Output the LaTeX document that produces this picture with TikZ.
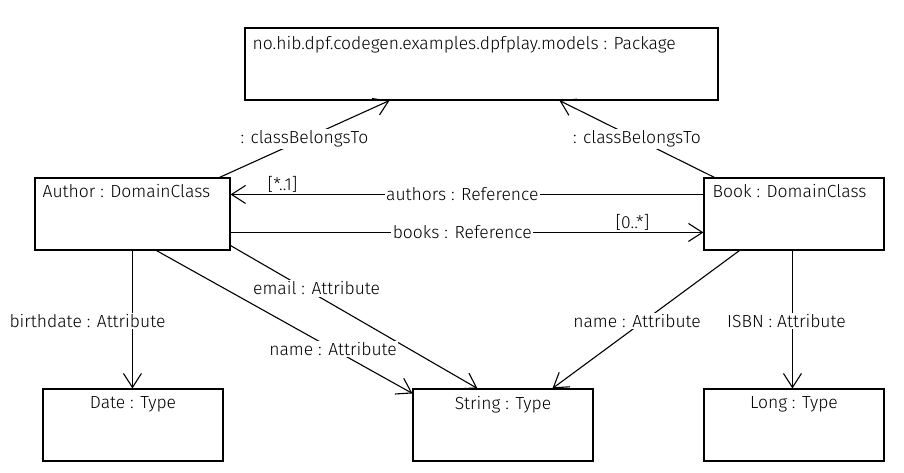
\documentclass[tikz,border=0pt]{standalone}
\usepackage{fontspec}
\setmainfont{Fira Sans Light}
\usetikzlibrary{arrows.meta,calc}
\begin{document}
\begin{tikzpicture}[x=1pt,y=-1pt,
  box/.style={draw,line width=1.1pt,minimum height=72pt,inner sep=0pt},
  arr/.style={line width=1.1pt,-{Straight Barb[length=14pt,width=18pt,line width=1.1pt]}},
  lbl/.style={fill=white,inner sep=1.5pt,font=\fontsize{17.5}{20}\selectfont},
  mult/.style={inner sep=1pt,font=\fontsize{17.5}{20}\selectfont},
  ttl/.style={inner sep=0pt,font=\fontsize{17.5}{20}\selectfont}]
\useasboundingbox[fill=white] (0,0) rectangle (904,472);
\node[box,minimum width=473pt] (pkg) at (481.5,64) {};
\node[box,minimum width=195pt] (author) at (132.5,214) {};
\node[box,minimum width=180pt] (book) at (794,214) {};
\node[box,minimum width=180pt] (date) at (133,425) {};
\node[box,minimum width=180pt] (string) at (503,425) {};
\node[box,minimum width=180pt] (long) at (794,425) {};
\node[ttl,anchor=north west] (pkgt) at ($(pkg.north west)+(8,9)$) {no.hib.dpf.codegen.examples.dpfplay.models : Package};
\node[ttl,anchor=north west] (authort) at ($(author.north west)+(8,7)$) {Author : DomainClass};
\node[ttl,anchor=north west] (bookt) at ($(book.north west)+(9,7)$) {Book : DomainClass};
\node[ttl,anchor=north] (datet) at ($(date.north)+(0,8)$) {Date : Type};
\node[ttl,anchor=north] (stringt) at ($(string.north)+(0,8)$) {String : Type};
\node[ttl,anchor=north] (longt) at ($(long.north)+(0,8)$) {Long : Type};
% edges
\draw[arr] ($(author.north west)+(185,0)$) -- node[lbl,pos=.5]{: classBelongsTo} ($(pkg.south west)+(145,0)$);
\draw[arr] ($(book.north west)+(11,0)$) -- node[lbl,pos=.5]{: classBelongsTo} ($(pkg.south west)+(315,0)$);
\draw[arr] ($(book.north west)+(0,17)$) -- node[lbl,pos=.51]{authors : Reference}
  node[mult,pos=.89,above]{[*..1]} ($(author.north east)+(0,17)$);
\draw[arr] ($(author.north east)+(0,55)$) -- node[lbl,pos=.49]{books : Reference}
  node[mult,pos=.85,above]{[0..*]} ($(book.north west)+(0,55)$);
\draw[arr] ($(author.south west)+(98,0)$) -- node[lbl,pos=.51,xshift=-45pt]{birthdate : Attribute} ($(date.north west)+(90,0)$);
\draw[arr] ($(author.south east)+(0,-5)$) -- node[lbl,pos=.3,xshift=12pt]{email : Attribute} ($(string.north west)+(65,0)$);
\draw[arr] ($(author.south west)+(122,0)$) -- node[lbl,pos=.69]{name : Attribute} ($(string.north west)+(0,5)$);
\draw[arr] ($(book.south west)+(36,0)$) -- node[lbl,pos=.51,xshift=-7pt]{name : Attribute} ($(string.north west)+(140,0)$);
\draw[arr] ($(book.south west)+(89,0)$) -- node[lbl,pos=.51,xshift=-6pt]{ISBN : Attribute} ($(long.north west)+(89,0)$);
\end{tikzpicture}
\end{document}
